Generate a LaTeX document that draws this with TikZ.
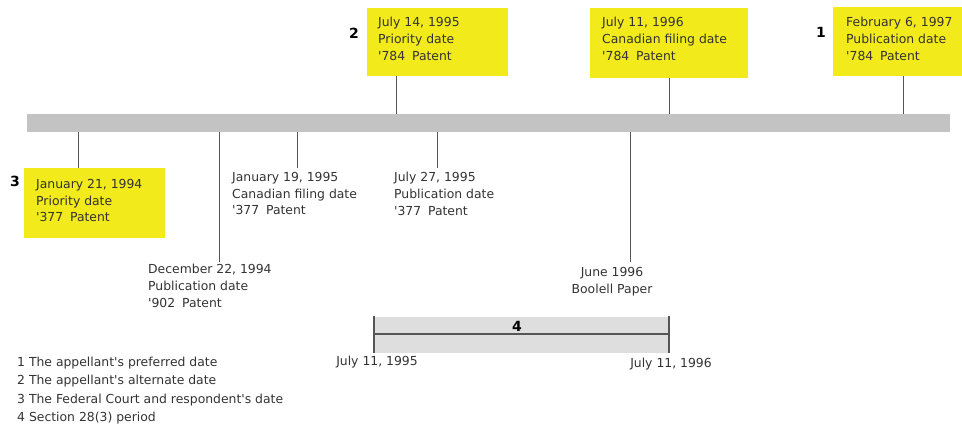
\documentclass[tikz,border=0pt]{standalone}
\usepackage{fontspec}
\setmainfont{DejaVu Sans}
\definecolor{ybox}{HTML}{F2EA1A}
\definecolor{barg}{HTML}{C3C3C3}
\definecolor{perg}{HTML}{DEDEDE}
\definecolor{txt}{HTML}{333333}
\definecolor{tick}{HTML}{555555}
\newcommand{\ap}{\textquotesingle}
\newcommand{\pat}[1]{\ap#1\hspace{0.55em}Patent}
\begin{document}
\begin{tikzpicture}[x=1pt,y=-1pt,
  lab/.style={font=\fontsize{12.4}{16.7}\selectfont, text=txt, align=left, inner sep=0pt, anchor=north west},
  ybx/.style={fill=ybox, draw=none},
  tk/.style={draw=tick, line width=1pt},
  num/.style={font=\fontsize{14}{15}\selectfont\bfseries, text=black, inner sep=0pt}]
\useasboundingbox (0,0) rectangle (962,424);
% main bar
\fill[barg] (27,114) rectangle (950,132);
\coordinate (barT1) at (396,114);
\coordinate (barT2) at (669,114);
\coordinate (barT3) at (903,114);
\coordinate (barB1) at (78,132);
\coordinate (barB2) at (219,132);
\coordinate (barB3) at (297,132);
\coordinate (barB4) at (437,132);
\coordinate (barB5) at (630,132);
% yellow boxes
\fill[ybx] (367,8) rectangle (508,76);
\fill[ybx] (590,8) rectangle (748,78);
\fill[ybx] (833,7) rectangle (962,76);
\fill[ybx] (24,168) rectangle (165,238);
\node[lab] (b2) at (378,17) {July 14, 1995\\Priority date\\\pat{784}};
\node[lab] (b4) at (602,17) {July 11, 1996\\Canadian filing date\\\pat{784}};
\node[lab] (b1) at (846,17) {February 6, 1997\\Publication date\\\pat{784}};
\node[lab] (b3) at (36,179) {January 21, 1994\\Priority date\\\pat{377}};
\coordinate (c2) at (396,76);
\coordinate (c4) at (669,78);
\coordinate (c1) at (903,76);
\coordinate (c3) at (78,168);
\draw[tk] (c2) -- (barT1);
\draw[tk] (c4) -- (barT2);
\draw[tk] (c1) -- (barT3);
\draw[tk] (barB1) -- (c3);
% below texts
\node[lab] (t902) at (148,264) {December 22, 1994\\Publication date\\\pat{902}};
\node[lab] (t377a) at (232,172) {January 19, 1995\\Canadian filing date\\\pat{377}};
\node[lab] (t377b) at (394,172) {July 27, 1995\\Publication date\\\pat{377}};
\node[lab, align=center, anchor=north] (tbp) at (612,267) {June 1996\\Boolell Paper};
\coordinate (e902) at (219,262);
\coordinate (e377a) at (297,168);
\coordinate (e377b) at (437,168);
\coordinate (ebp) at (630,262);
\draw[tk] (barB2) -- (e902);
\draw[tk] (barB3) -- (e377a);
\draw[tk] (barB4) -- (e377b);
\draw[tk] (barB5) -- (ebp);
% numbers
\node[num] (n2) at (354,33) {2};
\node[num] (n1) at (821,32) {1};
\node[num] (n3) at (15,181) {3};
% period
\fill[perg] (374,317) rectangle (669,353);
\coordinate (pl) at (374,334);
\coordinate (pr) at (669,334);
\coordinate (plt) at (374,316);
\coordinate (plb) at (374,353);
\coordinate (prt) at (669,316);
\coordinate (prb) at (669,353);
\draw[draw=tick, line width=1.2pt] (pl) -- (pr);
\draw[draw=tick, line width=1.2pt] (plt) -- (plb);
\draw[draw=tick, line width=1.2pt] (prt) -- (prb);
\node[num] (n4) at (517,326) {4};
\node[lab, anchor=north] (p1) at (377,356) {July 11, 1995};
\node[lab, anchor=north] (p2) at (671,358) {July 11, 1996};
% legend
\node[lab, font=\fontsize{12.4}{18.2}\selectfont] (leg) at (17,357) {1 The appellant\ap s preferred date\\2 The appellant\ap s alternate date\\3 The Federal Court and respondent\ap s date\\4 Section 28(3) period};
\end{tikzpicture}
\end{document}
